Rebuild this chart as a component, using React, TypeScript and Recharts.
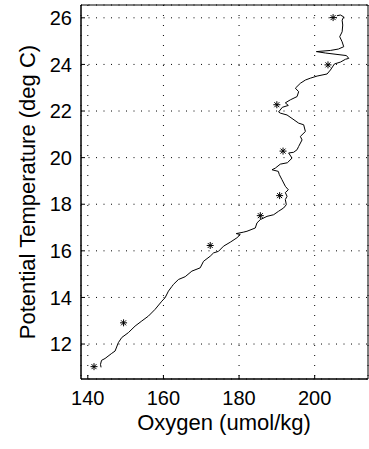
import { ScatterChart, Scatter, XAxis, YAxis, CartesianGrid, ReferenceArea } from 'recharts';

// CTD profile: oxygen vs potential temperature
const profileOxygen = [
  143.5, 143.36, 143.63, 144.56, 146.33, 147.21, 148.08, 148.98, 150.73, 152.5,
  154.28, 156.03, 157.8, 159.58, 160.45, 161.32, 162.23, 162.65, 163.97, 165.75,
  167.52, 169.72, 170.6, 172.37, 173.25, 174.57, 175.89, 177.67, 179.44, 180.32,
  179.26, 181.11, 182.09, 184.29, 184.74, 185.62, 187.39, 189.14, 190.46, 191.79,
  192.5, 192.24, 192.69, 192.24, 193.03, 192.24, 191.36, 190.65, 190.38, 188.71,
  189.59, 190.91, 192.77, 194.01, 193.11, 194.44, 195.34, 195.76, 196.66, 196.21,
  197.54, 197.09, 195.76, 194.01, 192.69, 190.91, 190.46, 191.44, 193.03, 192.24,
  193.56, 195.34, 195.76, 194.89, 196.21, 197.54, 198.86, 200.64, 203.28, 204.16,
  204.69, 205.22, 206.81, 208.13, 209.01, 208.4, 202.83, 200.45, 204.16, 206.28,
  207.68, 207.26, 206.62, 207.26, 207.42, 207.26, 207.68, 206.81, 205.88,
];
const profileTemp = [
  11.0, 11.13, 11.3, 11.38, 11.6, 11.7, 12.06, 12.28, 12.49, 12.77,
  12.99, 13.2, 13.49, 13.84, 13.99, 14.27, 14.47, 14.56, 14.77, 14.89,
  15.13, 15.27, 15.55, 15.77, 15.91, 15.98, 16.2, 16.37, 16.56, 16.7,
  16.74, 16.8, 16.84, 16.98, 17.2, 17.34, 17.48, 17.55, 17.7, 17.84,
  17.98, 18.2, 18.34, 18.5, 18.62, 18.77, 19.05, 19.27, 19.41, 19.48,
  19.55, 19.72, 19.78, 19.98, 20.2, 20.23, 20.34, 20.48, 20.76, 20.91,
  21.12, 21.41, 21.48, 21.68, 21.83, 21.91, 21.96, 22.16, 22.24, 22.35,
  22.48, 22.62, 22.83, 22.98, 23.19, 23.33, 23.41, 23.5, 23.59, 23.76,
  23.89, 24.02, 24.1, 24.22, 24.26, 24.38, 24.49, 24.55, 24.6, 24.66,
  24.76, 24.97, 25.19, 25.4, 25.69, 25.9, 26.04, 26.12, 26.09,
];

// bottle samples (asterisks)
const bottleOxygen = [141.64, 149.46, 172.37, 185.62, 190.73, 191.63, 189.99, 203.52, 204.87];
const bottleTemp = [11.03, 12.91, 16.23, 17.51, 18.37, 20.28, 22.27, 23.98, 26.01];

const xTicks = [140, 160, 180, 200];
const yTicks = [12, 14, 16, 18, 20, 22, 24, 26];
const xDomain = [138.2, 214.1];
const yDomain = [10.5, 26.55];

const profile = profileOxygen.map((o, i) => ({ o, t: profileTemp[i] }));
const bottles = bottleOxygen.map((o, i) => ({ o, t: bottleTemp[i] }));

const FONT = '"Liberation Sans", Arial, Helvetica, sans-serif';

const noDot = () => <g />;

const Star = (props: any) => {
  const { cx, cy } = props;
  const r = 3.5;
  const d = 2.5;
  return (
    <g stroke="#000" strokeWidth={1}>
      <line x1={cx - r} y1={cy} x2={cx + r} y2={cy} />
      <line x1={cx} y1={cy - r} x2={cx} y2={cy + r} />
      <line x1={cx - d} y1={cy - d} x2={cx + d} y2={cy + d} />
      <line x1={cx - d} y1={cy + d} x2={cx + d} y2={cy - d} />
    </g>
  );
};

const tickStyle = { fill: '#000', fontSize: 20, fontFamily: FONT };

export default function App() {
  return (
    <div style={{ position: 'absolute', left: 0, top: 0, background: '#fff' }}>
      <ScatterChart width={369} height={449} margin={{ top: 5, right: 1, left: 0, bottom: 0 }}>
        <CartesianGrid horizontal={false} stroke="#000" strokeDasharray="1 9" />
        <CartesianGrid vertical={false} stroke="#000" strokeDasharray="1 6.5" />
        <XAxis
          type="number"
          dataKey="o"
          domain={xDomain}
          ticks={xTicks}
          allowDataOverflow
          height={70}
          stroke="#000"
          tickSize={-4}
          tickMargin={16}
          tick={tickStyle}
          label={{
            content: () => (
              <text x={224} y={430} textAnchor="middle" fontSize={22} fontFamily={FONT} fill="#000">
                Oxygen (umol/kg)
              </text>
            ),
          }}
        />
        <YAxis
          type="number"
          dataKey="t"
          domain={yDomain}
          ticks={yTicks}
          allowDataOverflow
          width={81}
          stroke="#000"
          tickSize={-4}
          tickMargin={13}
          tick={tickStyle}
          label={{
            content: () => (
              <text
                transform="translate(35,192) rotate(-90)"
                x={0}
                y={0}
                textAnchor="middle"
                fontSize={22}
                fontFamily={FONT}
                fill="#000"
              >
                Potential Temperature (deg C)
              </text>
            ),
          }}
        />
        <ReferenceArea
          x1={xDomain[0]}
          x2={xDomain[1]}
          y1={yDomain[0]}
          y2={yDomain[1]}
          fill="none"
          stroke="#000"
          strokeWidth={1}
          ifOverflow="visible"
        />
        <Scatter
          data={profile}
          line={{ stroke: '#000', strokeWidth: 1 }}
          lineType="joint"
          shape={noDot}
          isAnimationActive={false}
        />
        <Scatter data={bottles} shape={<Star />} isAnimationActive={false} />
      </ScatterChart>
    </div>
  );
}
